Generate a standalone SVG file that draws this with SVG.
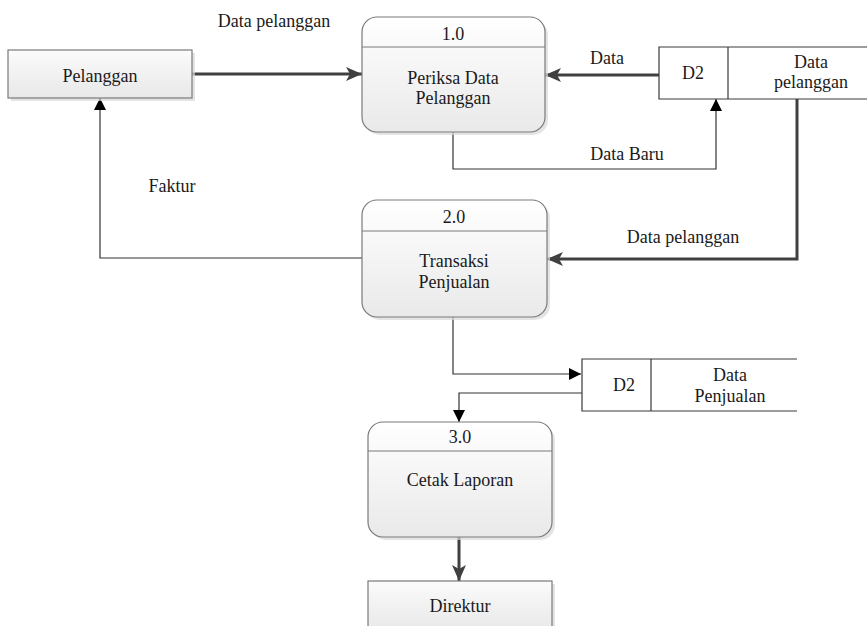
<svg xmlns="http://www.w3.org/2000/svg" width="867" height="626" viewBox="0 0 867 626">
<style>
text{font-family:'Liberation Serif','Times New Roman',serif;font-size:18px;fill:#1a1a1a;text-anchor:middle}
.proc{fill:url(#g);stroke:#7a7a7a;stroke-width:1.2}
.ent{fill:url(#g2);stroke:#7a7a7a;stroke-width:1.2}
.sh{fill:#d9d9d9;opacity:0.7}
.hdr{stroke:#7a7a7a;stroke-width:1.2}
.store{fill:none;stroke:#3a3a3a;stroke-width:1.2}
.thick{fill:none;stroke:#404040;stroke-width:3;marker-end:url(#ah)}
.thin{fill:none;stroke:#333;stroke-width:1.2;marker-end:url(#at)}
</style>
<defs>
<linearGradient id="g" x1="0" y1="0" x2="0" y2="1"><stop offset="0" stop-color="#ffffff"/><stop offset="1" stop-color="#e9e9e9"/></linearGradient>
<linearGradient id="g2" x1="0" y1="0" x2="0" y2="1"><stop offset="0" stop-color="#fbfbfb"/><stop offset="1" stop-color="#e8e8e8"/></linearGradient>
<marker id="ah" markerUnits="userSpaceOnUse" markerWidth="18" markerHeight="16" refX="16" refY="7" orient="auto"><path d="M0,0 L16,7 L0,14 L4,7 Z" fill="#404040"/></marker>
<marker id="at" markerUnits="userSpaceOnUse" markerWidth="14" markerHeight="12" refX="12" refY="6" orient="auto"><path d="M0,0 L12,6 L0,12 Z" fill="#000"/></marker>
</defs>
<g id="connectors">
<path class="thick" d="M192,74 H362"/>
<path class="thick" d="M659,75 H545"/>
<path class="thick" d="M797,99 V259 H547"/>
<path class="thin" d="M453,132 V169 H716 V99"/>
<path class="thin" d="M362,258 H100 V98"/>
<path class="thin" d="M453,317 V374 H581"/>
<path class="thin" d="M582,393 H459 V422"/>
<path class="thick" d="M459,537 V581"/>
<text x="274" y="27">Data pelanggan</text>
<text x="607" y="64">Data</text>
<text x="627" y="160">Data Baru</text>
<text x="172" y="192">Faktur</text>
<text x="683" y="243">Data pelanggan</text>
</g>
<g id="pelanggan">
<rect class="sh" x="11" y="53" width="184" height="48"/>
<rect class="ent" x="8" y="50" width="184" height="48"/>
<text x="100" y="82">Pelanggan</text>
</g>
<g id="p1">
<rect class="sh" x="365" y="20" width="183" height="115" rx="15"/>
<rect class="proc" x="362" y="17" width="183" height="115" rx="15"/>
<line class="hdr" x1="362" y1="47" x2="545" y2="47"/>
<text x="453" y="40">1.0</text>
<text x="453" y="84">Periksa Data</text>
<text x="453" y="104">Pelanggan</text>
</g>
<g id="d2a">
<path class="store" d="M867,47 H659 V99 H867 M728,47 V99"/>
<text x="693" y="79">D2</text>
<text x="811" y="68">Data</text>
<text x="811" y="88">pelanggan</text>
</g>
<g id="p2">
<rect class="sh" x="365" y="203" width="185" height="117" rx="15"/>
<rect class="proc" x="362" y="200" width="185" height="117" rx="15"/>
<line class="hdr" x1="362" y1="231" x2="547" y2="231"/>
<text x="454" y="223">2.0</text>
<text x="454" y="267">Transaksi</text>
<text x="454" y="288">Penjualan</text>
</g>
<g id="d2b">
<path class="store" d="M797,359 H582 V411 H797 M651,359 V411"/>
<text x="624" y="391">D2</text>
<text x="730" y="381">Data</text>
<text x="730" y="402">Penjualan</text>
</g>
<g id="p3">
<rect class="sh" x="371" y="425" width="184" height="115" rx="15"/>
<rect class="proc" x="368" y="422" width="184" height="115" rx="15"/>
<line class="hdr" x1="368" y1="451" x2="552" y2="451"/>
<text x="460" y="443">3.0</text>
<text x="460" y="486">Cetak Laporan</text>
</g>
<g id="direktur">
<rect class="sh" x="371" y="584" width="184" height="50"/>
<rect class="ent" x="368" y="581" width="184" height="50"/>
<text x="460" y="612">Direktur</text>
</g>
</svg>
